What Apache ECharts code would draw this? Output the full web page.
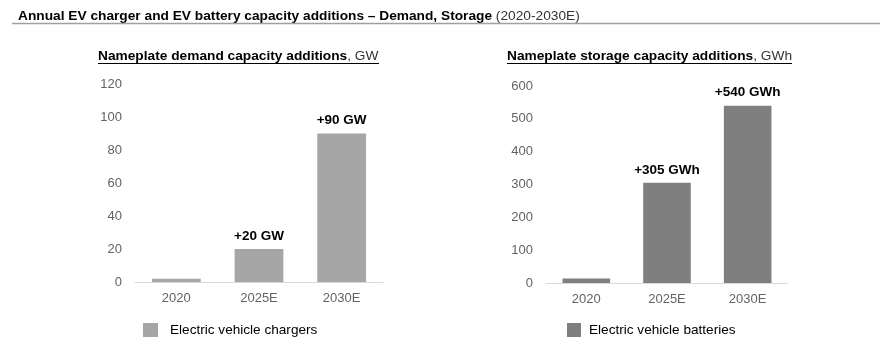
<!DOCTYPE html>
<html>
<head>
<meta charset="utf-8">
<script src="https://cdn.jsdelivr.net/npm/echarts@6/dist/echarts.min.js"></script>
<style>
  html, body { margin: 0; padding: 0; background: #fff; }
  #chart { width: 882px; height: 337px; }
</style>
</head>
<body>
<div id="chart"></div>
<script>
// Categories shared by both panels
const years = ['2020', '2025E', '2030E'];

// Demand panel: EV charger nameplate additions (GW)
const chargerValues = [2, 20, 90];
const chargerLabels = ['', '+20 GW', '+90 GW'];
const demandTicks = { min: 0, max: 120, interval: 20 };

// Storage panel: EV battery nameplate additions (GWh)
const batteryValues = [14, 305, 540];
const batteryLabels = ['', '+305 GWh', '+540 GWh'];
const storageTicks = { min: 0, max: 600, interval: 100 };

const FONT = '"Liberation Sans", Arial, sans-serif';
const tickColor = '#636363';

// Headline text with a bold lead and a regular tail, slightly widened
function headline(x, y, size, boldText, normalText) {
  return {
    type: 'text',
    x: x, y: y,
    scaleX: 1.055,
    style: {
      text: '{b|' + boldText + '}{n|' + normalText + '}',
      verticalAlign: 'middle',
      rich: {
        b: { fontFamily: FONT, fontSize: size, fontWeight: 'bold', fill: '#000' },
        n: { fontFamily: FONT, fontSize: size, fontWeight: 'normal', fill: '#333' }
      }
    }
  };
}

function underline(x1, x2, y, color, w) {
  return { type: 'line', shape: { x1: x1, y1: y, x2: x2, y2: y }, style: { stroke: color, lineWidth: w } };
}

const chart = echarts.init(document.getElementById('chart'), null, { renderer: 'canvas' });

chart.setOption({
  animation: false,
  backgroundColor: '#ffffff',
  textStyle: { fontFamily: FONT },
  grid: [
    { left: 135, width: 248, top: 84, bottom: 55, containLabel: false },
    { left: 546, width: 242, top: 86, bottom: 54, containLabel: false }
  ],
  xAxis: [0, 1].map(i => ({
    type: 'category',
    gridIndex: i,
    data: years,
    axisLine: { show: true, lineStyle: { color: '#d9d9d9', width: 1 } },
    axisTick: { show: false },
    axisLabel: { color: tickColor, fontSize: 13, fontFamily: FONT, margin: 10 }
  })),
  yAxis: [
    Object.assign({
      type: 'value', gridIndex: 0,
      splitLine: { show: false }, axisLine: { show: false }, axisTick: { show: false },
      axisLabel: { color: tickColor, fontSize: 13, fontFamily: FONT, margin: 13 }
    }, demandTicks),
    Object.assign({
      type: 'value', gridIndex: 1,
      splitLine: { show: false }, axisLine: { show: false }, axisTick: { show: false },
      axisLabel: { color: tickColor, fontSize: 13, fontFamily: FONT, margin: 13 }
    }, storageTicks)
  ],
  legend: [
    {
      data: ['Electric vehicle chargers'],
      left: 143, top: 323, padding: 0,
      icon: 'rect', itemWidth: 15, itemHeight: 14,
      textStyle: { color: '#000', fontSize: 13.6, fontFamily: FONT, padding: [0, 0, 0, 7] }
    },
    {
      data: ['Electric vehicle batteries'],
      left: 567, top: 323, padding: 0,
      icon: 'rect', itemWidth: 14, itemHeight: 14,
      textStyle: { color: '#000', fontSize: 13.6, fontFamily: FONT, padding: [0, 0, 0, 3] }
    }
  ],
  series: [
    {
      name: 'Electric vehicle chargers',
      type: 'bar',
      xAxisIndex: 0, yAxisIndex: 0,
      data: chargerValues,
      barWidth: '59%',
      itemStyle: { color: '#a6a6a6' },
      label: {
        show: true, position: 'top', distance: 6,
        fontFamily: FONT, fontSize: 13.5, fontWeight: 'bold', color: '#000',
        formatter: p => chargerLabels[p.dataIndex]
      }
    },
    {
      name: 'Electric vehicle batteries',
      type: 'bar',
      xAxisIndex: 1, yAxisIndex: 1,
      data: batteryValues,
      barWidth: '59%',
      itemStyle: { color: '#7f7f7f' },
      label: {
        show: true, position: 'top', distance: 6,
        fontFamily: FONT, fontSize: 13.5, fontWeight: 'bold', color: '#000',
        formatter: p => batteryLabels[p.dataIndex]
      }
    }
  ],
  graphic: [
    headline(18, 16.5, 13, 'Annual EV charger and EV battery capacity additions – Demand, Storage ', '(2020-2030E)'),
    underline(12, 880, 23.5, '#a0a0a0', 1.5),
    headline(98, 56.5, 13, 'Nameplate demand capacity additions', ', GW'),
    underline(98, 379, 63.5, '#000', 1),
    headline(507, 56.5, 13, 'Nameplate storage capacity additions', ', GWh'),
    underline(507, 792, 63.5, '#000', 1)
  ]
});
</script>
</body>
</html>
